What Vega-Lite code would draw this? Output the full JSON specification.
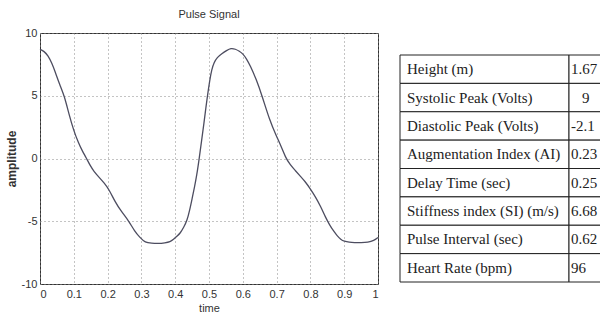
{
  "$schema": "https://vega.github.io/schema/vega-lite/v6.json",
  "background": "white",
  "padding": {"left": 4, "top": 8, "right": 0, "bottom": 0},
  "bounds": "flush",
  "spacing": 22,
  "config": {
    "view": {"stroke": "#333", "strokeWidth": 1},
    "axis": {"domain": false, "ticks": false, "labelFont": "Liberation Sans", "labelFontSize": 11, "labelColor": "#333", "titleColor": "#333", "gridColor": "#888", "gridDash": [1, 3], "gridWidth": 1, "gridOpacity": 1}
  },
  "datasets": {
    "pulse": [
      {"t": 0, "amp": 8.7}, {"t": 0.012, "amp": 8.55}, {"t": 0.024, "amp": 8.2}, {"t": 0.035, "amp": 7.6},
      {"t": 0.045, "amp": 6.9}, {"t": 0.058, "amp": 5.9}, {"t": 0.072, "amp": 5.0}, {"t": 0.085, "amp": 3.6},
      {"t": 0.1, "amp": 2.2}, {"t": 0.113, "amp": 1.3}, {"t": 0.125, "amp": 0.6}, {"t": 0.137, "amp": 0.05},
      {"t": 0.148, "amp": -0.55}, {"t": 0.16, "amp": -1.05}, {"t": 0.175, "amp": -1.5}, {"t": 0.19, "amp": -1.95},
      {"t": 0.205, "amp": -2.5}, {"t": 0.222, "amp": -3.45}, {"t": 0.24, "amp": -4.2}, {"t": 0.262, "amp": -4.95},
      {"t": 0.28, "amp": -5.8}, {"t": 0.296, "amp": -6.3}, {"t": 0.311, "amp": -6.7}, {"t": 0.33, "amp": -6.75},
      {"t": 0.35, "amp": -6.78}, {"t": 0.37, "amp": -6.72}, {"t": 0.385, "amp": -6.65}, {"t": 0.395, "amp": -6.45},
      {"t": 0.405, "amp": -6.2}, {"t": 0.415, "amp": -5.95}, {"t": 0.425, "amp": -5.5}, {"t": 0.435, "amp": -4.95},
      {"t": 0.443, "amp": -4.1}, {"t": 0.45, "amp": -3.2}, {"t": 0.457, "amp": -2.3}, {"t": 0.464, "amp": -1.3},
      {"t": 0.471, "amp": 0.0}, {"t": 0.478, "amp": 1.4}, {"t": 0.485, "amp": 2.8}, {"t": 0.491, "amp": 4.1},
      {"t": 0.496, "amp": 5.1}, {"t": 0.502, "amp": 6.2}, {"t": 0.508, "amp": 7.1}, {"t": 0.515, "amp": 7.65},
      {"t": 0.524, "amp": 8.05}, {"t": 0.538, "amp": 8.35}, {"t": 0.552, "amp": 8.6}, {"t": 0.565, "amp": 8.8},
      {"t": 0.578, "amp": 8.72}, {"t": 0.59, "amp": 8.55}, {"t": 0.6, "amp": 8.35}, {"t": 0.611, "amp": 7.95},
      {"t": 0.622, "amp": 7.4}, {"t": 0.64, "amp": 6.3}, {"t": 0.657, "amp": 5.0}, {"t": 0.68, "amp": 3.0},
      {"t": 0.7, "amp": 1.75}, {"t": 0.713, "amp": 1.0}, {"t": 0.726, "amp": 0.1}, {"t": 0.74, "amp": -0.5},
      {"t": 0.755, "amp": -0.95}, {"t": 0.77, "amp": -1.4}, {"t": 0.785, "amp": -1.85}, {"t": 0.8, "amp": -2.43},
      {"t": 0.815, "amp": -3.05}, {"t": 0.83, "amp": -3.8}, {"t": 0.845, "amp": -4.7}, {"t": 0.857, "amp": -5.3},
      {"t": 0.869, "amp": -5.8}, {"t": 0.879, "amp": -6.15}, {"t": 0.89, "amp": -6.45}, {"t": 0.9, "amp": -6.6},
      {"t": 0.915, "amp": -6.68}, {"t": 0.93, "amp": -6.7}, {"t": 0.95, "amp": -6.7}, {"t": 0.97, "amp": -6.68},
      {"t": 0.988, "amp": -6.55}, {"t": 1.0, "amp": -6.3}
    ],
    "table": [
      {"row": 1, "param": "Height (m)", "value": "1.67"},
      {"row": 2, "param": "Systolic Peak (Volts)", "value": "\u28009"},
      {"row": 3, "param": "Diastolic Peak  (Volts)", "value": "-2.1"},
      {"row": 4, "param": "Augmentation Index (AI)", "value": "0.23"},
      {"row": 5, "param": "Delay Time (sec)", "value": "0.25"},
      {"row": 6, "param": "Stiffness index (SI) (m/s)", "value": "6.68"},
      {"row": 7, "param": "Pulse Interval (sec)", "value": "0.62"},
      {"row": 8, "param": "Heart Rate (bpm)", "value": "96"}
    ]
  },
  "hconcat": [
    {
      "width": 338,
      "height": 251,
      "title": {"text": "Pulse Signal", "font": "Liberation Sans", "fontSize": 11, "fontWeight": "normal", "color": "#333", "offset": 7},
      "data": {"name": "pulse"},
      "mark": {"type": "line", "color": "#4d4d60", "strokeWidth": 1.3, "interpolate": "basis"},
      "encoding": {
        "x": {"field": "t", "type": "quantitative", "scale": {"domain": [0, 1], "nice": false},
          "axis": {"values": [0, 0.1, 0.2, 0.3, 0.4, 0.5, 0.6, 0.7, 0.8, 0.9, 1], "format": ".1~f", "labelPadding": 4, "title": "time", "titleFont": "Liberation Sans", "titleFontSize": 11, "titleFontWeight": "normal", "titlePadding": 3}},
        "y": {"field": "amp", "type": "quantitative", "scale": {"domain": [-10, 10], "nice": false},
          "axis": {"values": [-10, -5, 0, 5, 10], "labelExpr": "datum.value + ''", "labelPadding": 3, "title": "amplitude", "titleFont": "Liberation Sans", "titleFontSize": 12, "titleFontWeight": "bold", "titlePadding": 3}}
      }
    },
    {
      "bounds": "flush",
      "spacing": 0,
      "hconcat": [
        {
          "width": 169,
          "height": 251,
          "view": {"stroke": null},
          "data": {"name": "table"},
          "encoding": {
            "y": {"field": "row", "type": "ordinal", "axis": null, "scale": {"paddingInner": 0, "paddingOuter": 0.423, "align": 0.917}}
          },
          "layer": [
            {"mark": {"type": "rect", "fill": "white", "stroke": "#222", "strokeWidth": 1},
             "encoding": {"x": {"datum": 0, "type": "quantitative", "scale": {"domain": [0, 1]}, "axis": null}, "x2": {"datum": 1}}},
            {"mark": {"type": "text", "align": "left", "baseline": "middle", "dx": 7, "font": "Liberation Serif", "fontSize": 15, "color": "#222"},
             "encoding": {"x": {"datum": 0, "type": "quantitative", "scale": {"domain": [0, 1]}, "axis": null}, "text": {"field": "param"}}}
          ]
        },
        {
          "width": 31,
          "height": 251,
          "view": {"stroke": null},
          "data": {"name": "table"},
          "encoding": {
            "y": {"field": "row", "type": "ordinal", "axis": null, "scale": {"paddingInner": 0, "paddingOuter": 0.423, "align": 0.917}}
          },
          "layer": [
            {"mark": {"type": "rect", "fill": "white", "stroke": "#222", "strokeWidth": 1},
             "encoding": {"x": {"datum": 0, "type": "quantitative", "scale": {"domain": [0, 1]}, "axis": null}, "x2": {"datum": 1.2}}},
            {"mark": {"type": "text", "align": "left", "baseline": "middle", "dx": 2, "font": "Liberation Serif", "fontSize": 15, "color": "#222"},
             "encoding": {"x": {"datum": 0, "type": "quantitative", "scale": {"domain": [0, 1]}, "axis": null}, "text": {"field": "value"}}}
          ]
        }
      ]
    }
  ]
}
